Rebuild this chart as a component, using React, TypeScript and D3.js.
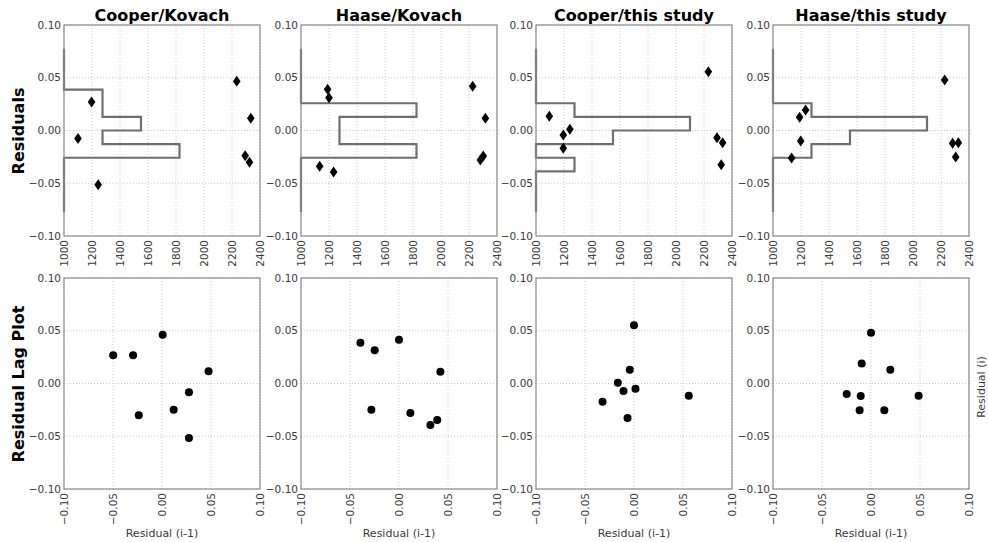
import React from "react";
import * as d3 from "d3";

// ---- data ----
const TITLES = ["Cooper/Kovach", "Haase/Kovach", "Cooper/this study", "Haase/this study"];

// top row: residuals vs wavelength-like x (1000..2400)
const TOP_X: number[][] = [
  [1100, 1197, 1244, 2234, 2334, 2294, 2325],
  [1190, 1200, 1133, 1233, 2226, 2317, 2302, 2281],
  [1095, 1195, 1242, 1195, 2231, 2293, 2333, 2323],
  [1190, 1233, 1198, 1133, 2226, 2283, 2324, 2305],
];
const TOP_Y: number[][] = [
  [-0.0077, 0.027, -0.0514, 0.0466, 0.0115, -0.0239, -0.0302],
  [0.039, 0.0311, -0.034, -0.0393, 0.042, 0.0115, -0.0242, -0.028],
  [0.0134, -0.0043, 0.0011, -0.0169, 0.0557, -0.0068, -0.0115, -0.0324],
  [0.0125, 0.0194, -0.01, -0.0261, 0.0479, -0.0122, -0.0115, -0.0251],
];

// histogram (horizontal step), 12 bins from -0.0775 to 0.0775, counts bottom->top
const HIST_LO = -0.0775;
const HIST_HI = 0.0775;
const HIST_BASE = 1000;
const HIST_UNIT = 275;
const HIST_COUNTS: number[][] = [
  [0, 0, 0, 0, 3, 1, 2, 1, 1, 0, 0, 0],
  [0, 0, 0, 0, 3, 1, 1, 3, 0, 0, 0, 0],
  [0, 0, 0, 1, 0, 2, 4, 1, 0, 0, 0, 0],
  [0, 0, 0, 0, 1, 2, 4, 1, 0, 0, 0, 0],
];

// bottom row: lag plot residual(i-1) vs residual(i)
const LAG_X: number[][] = [
  [-0.0498, -0.0295, 0.0007, 0.0475, 0.0275, 0.0119, -0.0237, 0.0275],
  [-0.0394, -0.0248, 0.0, 0.0422, -0.0282, 0.0116, 0.032, 0.039],
  [0.0, -0.0043, -0.0165, -0.0107, 0.0015, -0.0321, -0.0066, 0.0559],
  [0.0, -0.0095, 0.0197, -0.0248, -0.0105, -0.0116, 0.0136, 0.0486],
];
const LAG_Y: number[][] = [
  [0.0267, 0.0267, 0.0463, 0.0115, -0.0084, -0.0248, -0.0302, -0.0517],
  [0.0386, 0.0314, 0.0414, 0.0112, -0.0248, -0.028, -0.0393, -0.0346],
  [0.0551, 0.0131, 0.0008, -0.0071, -0.0049, -0.0172, -0.0327, -0.0115],
  [0.0482, 0.019, 0.0131, -0.01, -0.0119, -0.0254, -0.0254, -0.0115],
];

const TOP_XTICKS = [1000, 1200, 1400, 1600, 1800, 2000, 2200, 2400];
const RES_TICKS = [-0.1, -0.05, 0, 0.05, 0.1];

// ---- layout ----
const W = 988;
const H = 542;
const COL_LEFT = [64, 301, 536, 773];
const PW = 196;
const TOP_ROW = [25, 236];
const BOT_ROW = [278, 489];
const FONT = "'DejaVu Sans', sans-serif";
const FRAME = "#8a8a8a";
const GRID = "#c8c8c8";
const TICK_TXT = "#3a3a3a";

const fmtRes = (v: number) => {
  const s = Math.abs(v).toFixed(2);
  return (v < 0 ? "\u2212" : "") + s;
};

function Panel(props: {
  left: number;
  row: number[];
  xDomain: [number, number];
  xTicks: number[];
  xFmt: (v: number) => string;
  children: (x: d3.ScaleLinear<number, number>, y: d3.ScaleLinear<number, number>) => React.ReactNode;
}) {
  const { left, row, xDomain, xTicks, xFmt } = props;
  const x = d3.scaleLinear().domain(xDomain).range([left, left + PW]);
  const y = d3.scaleLinear().domain([-0.1, 0.1]).range([row[1], row[0]]);
  return (
    <g>
      {xTicks.map((t) => (
        <line key={"gx" + t} x1={x(t)} x2={x(t)} y1={row[0]} y2={row[1]} stroke={GRID} strokeWidth={1} strokeDasharray="1,2" />
      ))}
      {RES_TICKS.map((t) => (
        <line key={"gy" + t} x1={left} x2={left + PW} y1={y(t)} y2={y(t)} stroke={GRID} strokeWidth={1} strokeDasharray="1,2" />
      ))}
      {props.children(x, y)}
      <rect x={left} y={row[0]} width={PW} height={row[1] - row[0]} fill="none" stroke={FRAME} strokeWidth={1.2} />
      {RES_TICKS.map((t) => (
        <text key={"ty" + t} x={left - 3} y={y(t)} dy="0.35em" textAnchor="end" fontSize={10.5} fill={TICK_TXT} fontFamily={FONT}>
          {fmtRes(t)}
        </text>
      ))}
      {xTicks.map((t) => (
        <text
          key={"tx" + t}
          transform={`translate(${x(t)},${row[1] + 4}) rotate(-90)`}
          dy="0.35em"
          textAnchor="end"
          fontSize={10.5}
          fill={TICK_TXT}
          fontFamily={FONT}
        >
          {xFmt(t)}
        </text>
      ))}
    </g>
  );
}

export default function App() {
  const edges = d3.range(13).map((i) => HIST_LO + ((HIST_HI - HIST_LO) * i) / 12);
  const diamond = (cx: number, cy: number) => `M${cx},${cy - 5.5}L${cx + 3.8},${cy}L${cx},${cy + 5.5}L${cx - 3.8},${cy}Z`;

  return (
    <svg width={W} height={H} style={{ position: "absolute", left: 0, top: 0, background: "#fff" }}>
      <rect x={0} y={0} width={W} height={H} fill="#fff" />
      {TITLES.map((title, p) => {
        const histPts: [number, number][] = [];
        histPts.push([HIST_BASE, edges[0]]);
        HIST_COUNTS[p].forEach((c, i) => {
          const v = HIST_BASE + c * HIST_UNIT;
          histPts.push([v, edges[i]]);
          histPts.push([v, edges[i + 1]]);
        });
        histPts.push([HIST_BASE, edges[12]]);
        return (
          <g key={title}>
            <text x={COL_LEFT[p] + PW / 2} y={21} textAnchor="middle" fontSize={16} fontWeight="bold" fontFamily={FONT} fill="#000">
              {title}
            </text>
            <Panel left={COL_LEFT[p]} row={TOP_ROW} xDomain={[1000, 2400]} xTicks={TOP_XTICKS} xFmt={(v) => String(v)}>
              {(x, y) => {
                const line = d3
                  .line<[number, number]>()
                  .x((d) => x(d[0]))
                  .y((d) => y(d[1]));
                return (
                  <g>
                    <path d={line(histPts) || ""} fill="none" stroke="#6f6f6f" strokeWidth={2.2} />
                    {TOP_X[p].map((xv, i) => (
                      <path key={i} d={diamond(x(xv), y(TOP_Y[p][i]))} fill="#000" />
                    ))}
                  </g>
                );
              }}
            </Panel>
            <Panel left={COL_LEFT[p]} row={BOT_ROW} xDomain={[-0.1, 0.1]} xTicks={RES_TICKS} xFmt={fmtRes}>
              {(x, y) => (
                <g>
                  {LAG_X[p].map((xv, i) => (
                    <circle key={i} cx={x(xv)} cy={y(LAG_Y[p][i])} r={4} fill="#000" />
                  ))}
                </g>
              )}
            </Panel>
            <text x={COL_LEFT[p] + PW / 2} y={537} textAnchor="middle" fontSize={11} fill={TICK_TXT} fontFamily={FONT}>
              Residual (i-1)
            </text>
          </g>
        );
      })}
      <text transform={`translate(24,131) rotate(-90)`} textAnchor="middle" fontSize={16} fontWeight="bold" fontFamily={FONT} fill="#000">
        Residuals
      </text>
      <text transform={`translate(24,384) rotate(-90)`} textAnchor="middle" fontSize={16} fontWeight="bold" fontFamily={FONT} fill="#000">
        Residual Lag Plot
      </text>
      <text transform={`translate(985,387) rotate(-90)`} textAnchor="middle" fontSize={11} fill={TICK_TXT} fontFamily={FONT}>
        Residual (i)
      </text>
    </svg>
  );
}
